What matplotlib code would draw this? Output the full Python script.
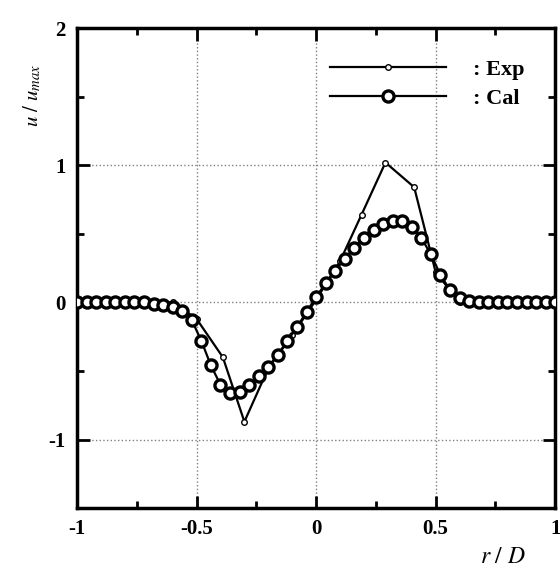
import numpy as np
import matplotlib.pyplot as plt
from matplotlib.ticker import MultipleLocator

# calculated profile, x step 0.04
cal_x = np.round(np.arange(-1.0, 1.0001, 0.04), 2)
cal_y = [0.0, 0.0, 0.0, 0.0, 0.0, 0.0, 0.0, 0.0, -0.01, -0.02,
         -0.03, -0.06, -0.13, -0.28, -0.46, -0.60, -0.66, -0.65, -0.60, -0.54,
         -0.47, -0.38, -0.28, -0.18, -0.07, 0.04, 0.14, 0.23, 0.32, 0.40,
         0.47, 0.53, 0.57, 0.59, 0.59, 0.55, 0.47, 0.35, 0.20, 0.09,
         0.03, 0.01, 0.0, 0.0, 0.0, 0.0, 0.0, 0.0, 0.0, 0.0, 0.0]

# experiment
exp_x = [-1.0, -0.9, -0.8, -0.7, -0.6, -0.5, -0.39, -0.30, -0.2, -0.1,
         0.0, 0.1, 0.19, 0.29, 0.41, 0.5, 0.6, 0.7, 0.8, 0.9, 1.0]
exp_y = [0.0, 0.0, 0.0, 0.0, 0.0, -0.12, -0.40, -0.87, -0.48, -0.24,
         0.02, 0.30, 0.64, 1.02, 0.84, 0.22, 0.0, 0.0, 0.0, 0.0, 0.0]

x_ticks = [-1, -0.5, 0, 0.5, 1]
x_labels = ["-1", "-0.5", "0", "0.5", "1"]
y_ticks = [-1, 0, 1, 2]
y_labels = ["-1", "0", "1", "2"]

plt.rcParams["font.family"] = ["Liberation Serif", "DejaVu Serif"]
plt.rcParams["mathtext.fontset"] = "stix"

fig = plt.figure(figsize=(5.6, 5.69), dpi=100)
ax = fig.add_axes([0.1375, 0.107, 0.854, 0.8436])

ax.plot(exp_x, exp_y, "-", color="black", lw=1.6, marker="o", ms=4,
        mfc="white", mew=1.0, label=": Exp", zorder=3)
ax.plot(cal_x, cal_y, "-", color="black", lw=1.6, marker="o", ms=8,
        mfc="white", mew=2.4, label=": Cal", zorder=4)

ax.set_xlim(-1, 1)
ax.set_ylim(-1.5, 2)
ax.set_xticks(x_ticks)
ax.set_xticklabels(x_labels)
ax.set_yticks(y_ticks)
ax.set_yticklabels(y_labels)
ax.xaxis.set_minor_locator(MultipleLocator(0.25))
ax.yaxis.set_minor_locator(MultipleLocator(0.5))
ax.tick_params(which="both", direction="in", top=True, right=True,
               labelsize=15, width=2, pad=8)
ax.tick_params(which="major", length=9)
ax.tick_params(which="minor", length=5)
for lab in ax.get_xticklabels() + ax.get_yticklabels():
    lab.set_fontweight("bold")
for sp in ax.spines.values():
    sp.set_linewidth(2.5)

ax.grid(True, which="major", ls=":", color="gray", lw=1)

ax.legend(loc="upper right", frameon=False, handlelength=5.2,
          handletextpad=1.2, borderaxespad=1.0, labelspacing=0.4,
          prop={"weight": "bold", "size": 16})

ax.set_ylabel(r"$u\ /\ u_{max}$", fontsize=15, rotation=90)
ax.yaxis.set_label_coords(-0.07, 0.86)
ax.set_xlabel(r"$r\ /\ D$", fontsize=17)
ax.xaxis.set_label_coords(0.89, -0.08)

fig.savefig("out.png", dpi=100)
